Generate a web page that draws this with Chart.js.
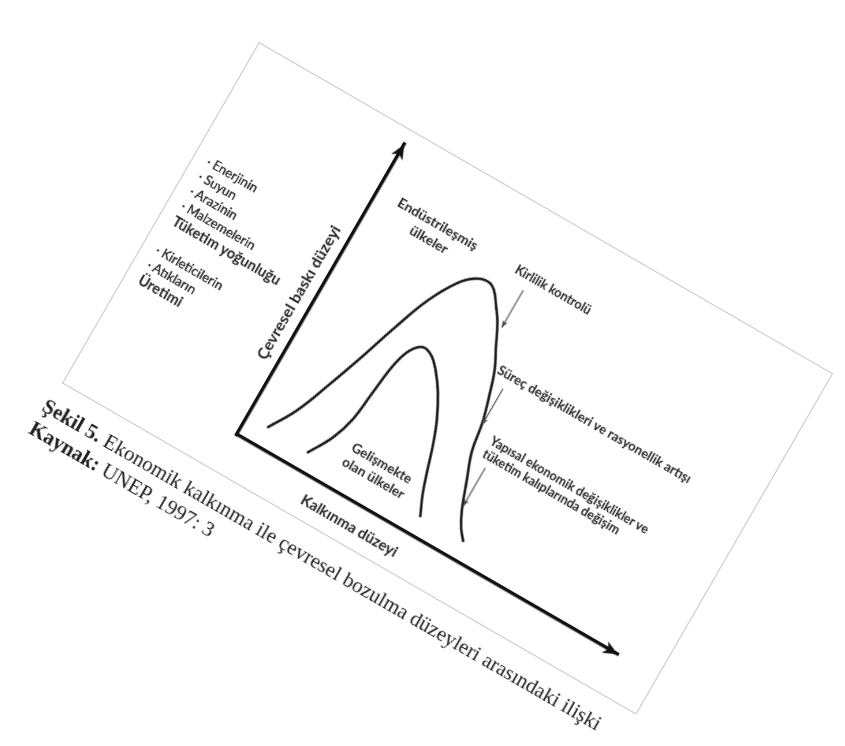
<!DOCTYPE html>
<html><head><meta charset="utf-8">
<script src="https://cdn.jsdelivr.net/npm/chart.js@4.4.1/dist/chart.umd.min.js"></script>
<style>
html,body{margin:0;padding:0;background:#fff;width:845px;height:746px;overflow:hidden;}
#rot{position:absolute;left:259px;top:42px;width:663px;height:394px;transform-origin:0 0;transform:rotate(30deg);filter:blur(0.35px);}
#box{position:absolute;left:0;top:0;width:663px;height:394px;box-sizing:border-box;border:1.3px solid #c6c6c6;background:#fff;}
#c{position:absolute;left:0;top:0;}
.t{position:absolute;font-family:Lato,"Open Sans",sans-serif;color:#262626;white-space:nowrap;font-weight:700;}
.n{font-weight:400;text-shadow:0 0 0.5px #333;}
.c{text-align:center;}
.cap{position:absolute;font-family:"Liberation Serif","Times New Roman",serif;color:#1e1e1e;white-space:nowrap;font-size:21px;line-height:26px;}
.cap b{font-weight:700;}
</style></head>
<body>
<div id="rot">
  <div id="box"></div>
  <canvas id="c" width="663" height="394"></canvas>

  <div class="t" id="list" style="left:15px;top:120px;font-size:13px;line-height:17px;">
    <div class="n">· Enerjinin</div>
    <div class="n">· Suyun</div>
    <div class="n">· Arazinin</div>
    <div class="n">· Malzemelerin</div>
    <div style="font-size:14.5px">Tüketim yoğunluğu</div>
    <div>&nbsp;</div>
    <div class="n">· Kirleticilerin</div>
    <div class="n">· Atıkların</div>
    <div style="font-size:14.5px">Üretimi</div>
  </div>

  <div class="t" style="left:158px;top:197px;font-size:16px;transform:translate(-50%,-50%) rotate(-90deg);">Çevresel baskı düzeyi</div>
  <div class="t" style="left:320px;top:373px;font-size:15px;transform:translate(-50%,-50%);">Kalkınma düzeyi</div>

  <div class="t c" style="left:186px;width:120px;top:59px;font-size:14px;line-height:18px;">Endüstrileşmiş<br>ülkeler</div>
  <div class="t c" style="left:257px;width:120px;top:295px;font-size:13.5px;line-height:17px;">Gelişmekte<br>olan ülkeler</div>

  <div class="t" style="left:336px;top:60px;font-size:12.5px;line-height:16px;">Kirlilik kontrolü</div>
  <div class="t" style="left:371px;top:155px;font-size:13px;line-height:16px;">Süreç değişiklikleri ve rasyonellik artışı</div>
  <div class="t" style="left:400px;top:221px;font-size:12.5px;line-height:15px;">Yapısal ekonomik değişiklikler ve<br>tüketim kalıplarında değişim</div>

  <div class="cap" style="left:-5px;top:408px;"><b>Şekil 5.</b> Ekonomik kalkınma ile çevresel bozulma düzeyleri arasındaki ilişki<br><b>Kaynak:</b> UNEP, 1997: 3</div>
</div>

<script>
// Curve values (development level on x, environmental pressure on y, 0-100 units)
const industrialX = [5.2, 9.1, 12.5, 15.9, 18.9, 22.3, 26.1, 29.1, 32.0, 34.1, 36.6, 38.6, 41.1, 43.4, 45.2, 47.0, 48.2, 50.5, 53.0, 54.8, 56.8];
const industrialY = [6.3, 15.2, 26.6, 39.1, 51.0, 63.0, 71.9, 75.8, 77.0, 75.8, 71.6, 67.8, 61.2, 55.2, 48.1, 39.7, 30.7, 22.4, 13.7, 9.3, 6.0];
const developingX = [15.9, 19.3, 21.1, 22.0, 23.0, 24.5, 26.8, 29.5, 32.0, 34.8, 37.7, 39.8, 41.6, 43.4, 45.5];
const developingY = [5.7, 13.7, 21.2, 31.3, 41.5, 47.5, 50.4, 49.3, 46.0, 40.9, 33.7, 26.6, 19.1, 12.2, 6.0];
// Pointer arrows (annotation arrows to the upper curve)
const pointerX = [40.0, 47.2, 52.7];
const pointerFromY = [80.0, 51.6, 28.4];
const pointerToY = [67.2, 39.1, 15.2];
const axisMin = 0, axisMax = 100;

function head(c, x, y, ang, len, half, notch) {
  c.save(); c.translate(x, y); c.rotate(ang);
  c.beginPath(); c.moveTo(0, 0); c.lineTo(-len, -half); c.lineTo(-len * notch, 0); c.lineTo(-len, half); c.closePath(); c.fill();
  c.restore();
}
const arrowPlugin = {
  id: 'arrows',
  afterDatasetsDraw(chart) {
    const c = chart.ctx;
    const xs = chart.scales.x, ys = chart.scales.y;
    const x0 = xs.getPixelForValue(axisMin), x1 = xs.getPixelForValue(axisMax);
    const y0 = ys.getPixelForValue(axisMin), y1 = ys.getPixelForValue(axisMax);
    c.save();
    c.fillStyle = '#111';
    c.fillRect(x0 - 1.75, y0 - 1.75, 3.5, 3.5);
    head(c, x1, y0, 0, 15, 6.5, 0.72);
    head(c, x0, y1, -Math.PI / 2, 15, 6.5, 0.72);
    chart.data.datasets.forEach((ds, i) => {
      if (!ds.arrow) return;
      const pts = chart.getDatasetMeta(i).data;
      const p = pts[pts.length - 1], q = pts[pts.length - 2];
      c.fillStyle = ds.borderColor;
      head(c, p.x, p.y, Math.atan2(p.y - q.y, p.x - q.x), 7, 2.6, 0.8);
    });
    c.restore();
  }
};

const toPts = (xs, ys) => xs.map((x, i) => ({x, y: ys[i]}));
const datasets = [
  {data: toPts(industrialX, industrialY), showLine: true, tension: 0.4, borderColor: '#1b1b1b', borderWidth: 2.6, pointRadius: 0},
  {data: toPts(developingX, developingY), showLine: true, tension: 0.4, borderColor: '#1b1b1b', borderWidth: 2.6, pointRadius: 0}
];
pointerX.forEach((x, i) => datasets.push({
  data: [{x, y: pointerFromY[i]}, {x, y: pointerToY[i]}], showLine: true, tension: 0,
  borderColor: '#4a4a4a', borderWidth: 1.1, pointRadius: 0, arrow: true
}));

new Chart(document.getElementById('c'), {
  type: 'scatter',
  data: {datasets},
  plugins: [arrowPlugin],
  options: {
    responsive: false, animation: false, events: [],
    layout: {padding: {left: 177, right: 46, top: 16, bottom: 43}},
    plugins: {legend: {display: false}, tooltip: {enabled: false}},
    scales: {
      x: {type: 'linear', min: axisMin, max: axisMax, grid: {display: false, drawTicks: false}, ticks: {display: false}, border: {display: true, width: 3.5, color: '#111'}},
      y: {type: 'linear', min: axisMin, max: axisMax, grid: {display: false, drawTicks: false}, ticks: {display: false}, border: {display: true, width: 3.5, color: '#111'}}
    }
  }
});
</script>
</body></html>
